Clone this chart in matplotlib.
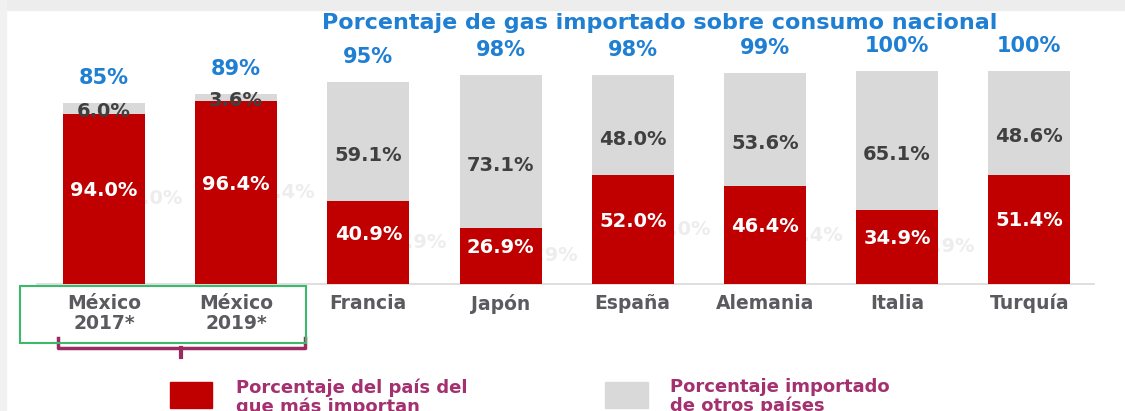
import numpy as np
import matplotlib.pyplot as plt
from matplotlib.patches import Rectangle

# data
paises = ['México\n2017*', 'México\n2019*', 'Francia', 'Japón', 'España',
          'Alemania', 'Italia', 'Turquía']
importado = [85, 89, 95, 98, 98, 99, 100, 100]          # % importado sobre consumo
principal = [94.0, 96.4, 40.9, 26.9, 52.0, 46.4, 34.9, 51.4]   # % del país principal
otros = [6.0, 3.6, 59.1, 73.1, 48.0, 53.6, 65.1, 48.6]          # % otros países

ROJO = '#C00000'
GRIS = '#D9D9D9'
AZUL = '#1F7FD2'
MORADO = '#A3306F'
TXT = '#404040'

W, H = 1125, 411
fig = plt.figure(figsize=(W/100, H/100), dpi=100)

# screenshot frame strips
fig.patches.append(Rectangle((0, 1 - 10/H), 1, 10/H, transform=fig.transFigure,
                             color='#EDEDED', zorder=0))
fig.patches.append(Rectangle((0, 0), 6/W, 1, transform=fig.transFigure,
                             color='#F1F1F1', zorder=0))

ax = fig.add_axes([37/W, (H-284)/H, (1094-37)/W, (284-71)/H])
ax.set_facecolor('none')

x = np.arange(len(paises))
imp = np.array(importado, dtype=float)
rojo = imp * np.array(principal) / 100
gris = imp - rojo

ax.bar(x, rojo, width=0.62, color=ROJO, zorder=3)
ax.bar(x, gris, bottom=rojo, width=0.62, color=GRIS, zorder=3)

ax.set_xlim(-0.507, 7.49)
ax.set_ylim(0, 100)
for s in ['top', 'right', 'left']:
    ax.spines[s].set_visible(False)
ax.spines['bottom'].set_color('#D9D9D9')
ax.spines['bottom'].set_linewidth(1.2)
ax.set_yticks([])
ax.set_xticks(x)
ax.set_xticklabels(paises, fontsize=13.5, fontweight='bold', color='#5A5A5F',
                   linespacing=1.1)
ax.tick_params(axis='x', length=0, pad=7)

for i in range(len(paises)):
    # total imported
    ax.annotate(f'{importado[i]}%', (x[i], imp[i]), xytext=(0, 18),
                textcoords='offset points', ha='center', va='center',
                fontsize=15, fontweight='bold', color=AZUL, annotation_clip=False)
    # grey segment label
    off = -10 if gris[i] > 10 else -2
    ax.annotate(f'{otros[i]:.1f}%', (x[i], rojo[i] + gris[i]/2), xytext=(0, off),
                textcoords='offset points', ha='center', va='center',
                fontsize=14, fontweight='bold', color=TXT, zorder=5)
    # red segment label
    ax.annotate(f'{principal[i]:.1f}%', (x[i], rojo[i]/2), xytext=(0, 6),
                textcoords='offset points', ha='center', va='center',
                fontsize=14, fontweight='bold', color='white', zorder=5)
    # faded copy left behind the bars
    ax.annotate(f'{principal[i]:.1f}%', (x[i] + 0.59, rojo[i]/2), xytext=(0, 0),
                textcoords='offset points', ha='right', va='center',
                fontsize=14, fontweight='bold', color='#EDEDED', zorder=1)

fig.text(660/W, 1 - 23/H, 'Porcentaje de gas importado sobre consumo nacional',
         ha='center', va='center', fontsize=16, fontweight='bold', color=AZUL)

# green box + bracket around Mexico
fig.patches.append(Rectangle((20/W, 1 - 343/H), 286/W, 57/H, transform=fig.transFigure,
                             fill=False, edgecolor='#3CB96A', lw=1.5, zorder=5))
bx = [58, 58, 305, 305]
by = [338, 348, 348, 338]
fig.add_artist(plt.Line2D([v/W for v in bx], [1 - v/H for v in by],
                          color='#9B2A63', lw=2.5, transform=fig.transFigure))
fig.add_artist(plt.Line2D([181/W, 181/W], [1 - 348/H, 1 - 357/H],
                          color='#9B2A63', lw=3, transform=fig.transFigure))

# legend
fig.patches.append(Rectangle((170/W, 1 - 408/H), 42/W, 26/H, transform=fig.transFigure,
                             color=ROJO))
fig.patches.append(Rectangle((605/W, 1 - 408/H), 43/W, 26/H, transform=fig.transFigure,
                             color=GRIS))
fig.text(236/W, 1 - 378/H, 'Porcentaje del país del\nque más importan', ha='left', va='top',
         fontsize=13, fontweight='bold', color=MORADO, linespacing=1.05)
fig.text(670/W, 1 - 378/H, 'Porcentaje importado\nde otros países', ha='left', va='top',
         fontsize=13, fontweight='bold', color=MORADO, linespacing=1.05)

fig.savefig('out.png', dpi=100)
